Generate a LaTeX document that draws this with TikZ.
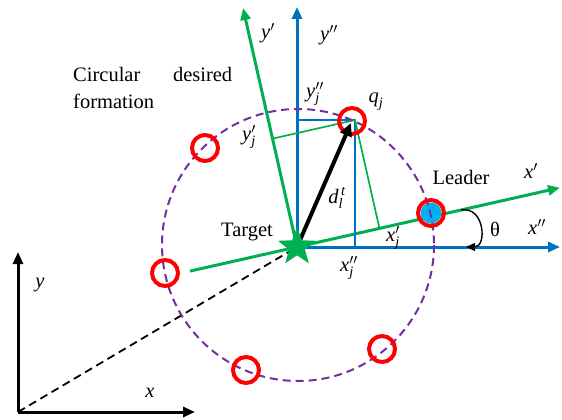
\documentclass[tikz,border=0pt]{standalone}
\usepackage{amsmath}
\usepackage{fontspec}
\setmainfont{Liberation Serif}
\usetikzlibrary{arrows.meta,shapes.geometric,calc}
\definecolor{gr}{HTML}{00B050}
\definecolor{bl}{HTML}{0070C0}
\definecolor{pu}{HTML}{7030A0}
\definecolor{cy}{HTML}{00B0F0}
\begin{document}
\begin{tikzpicture}[x=1pt,y=-1pt,
  font=\fontsize{20.5}{27}\selectfont,
  robot/.style={circle,draw=red,line width=4pt,minimum size=26pt,inner sep=0pt},
  tip/.style={-{Triangle[length=12pt,width=10pt]}},
  gaxis/.style={gr,line width=3pt,tip},
  baxis/.style={bl,line width=3pt,tip},
  kaxis/.style={black,line width=3pt,tip},
  gproj/.style={gr,line width=1.7pt},
  bproj/.style={bl,line width=2.3pt},
  formation/.style={pu,line width=2pt,dash pattern=on 8pt off 5pt},
  kdash/.style={black,line width=1.8pt,dash pattern=on 8pt off 5pt},
  lbl/.style={inner sep=0pt}]
\useasboundingbox (0,0) rectangle (562,420);

% key points
\coordinate (Tc) at (297,247);
\coordinate (O) at (18,412);
\coordinate (Oy) at (18,252);
\coordinate (Ox) at (195,412);
\coordinate (Bx) at (560,247);
\coordinate (By) at (297,7);
\coordinate (Gx0) at (190,271.1);
\coordinate (Gx) at (560,187.7);
\coordinate (Gy) at (243,8);
\coordinate (qp) at (355,120);
\coordinate (qa) at (351,123);
\coordinate (ths) at (461,210);
\coordinate (the) at (466,247);

% world frame
\draw[kaxis] (O) -- (Oy);
\draw[kaxis] (O) -- (Ox);
\draw[kdash] (O) -- (Tc);

% blue frame
\draw[baxis] (Tc) -- (By);
\draw[baxis] (Tc) -- (Bx);
% green frame
\draw[gaxis] (Tc) -- (Gy);
\draw[gaxis] (Gx0) -- (Gx);

% projections
\draw[bproj] ($(Tc)!(qp)!(By)$) -- (qp) -- ($(Tc)!(qp)!(Bx)$);
\draw[gproj] ($(Tc)!(qp)!(Gy)$) -- (qp) -- ($(Tc)!(qp)!(Gx)$);

% leader fill
\fill[cy] (431,213) circle (10.5);

% formation circle
\draw[formation] (298,245) circle (136);

% robots
\node[robot] (q) at (352,121) {};
\node[robot] (r2) at (205,148) {};
\node[robot] (r3) at (165,273) {};
\node[robot] (r4) at (246,370) {};
\node[robot] (r5) at (382,349) {};
\node[robot] (L) at (431,213) {};

% d vector
\draw[black,line width=4pt,-{Triangle[length=13pt,width=12pt]}] (Tc) -- (qa);

% target star
\node[star,star points=5,star point ratio=2.4,fill=gr,inner sep=0pt,minimum size=40pt] (T) at (Tc) {};

% theta arc
\draw[black,line width=1.4pt,-{Triangle[length=9pt,width=8pt]}] (ths) .. controls (485,206) and (487,247) .. (the);

% labels
\node[lbl,anchor=north west,align=left] (cap) at (73,67) {\hbox to 159pt{Circular\hfil desired}\\formation};
\node[lbl] (ly1) at (268,33) {$\textit{y}'$};
\node[lbl] (ly2) at (329,35) {$\textit{y}''$};
\node[lbl] (lyj2) at (315,94) {$\textit{y}''_{\textit{j}}$};
\node[lbl] (lq) at (376,102) {$\textit{q}_{\textit{j}}$};
\node[lbl] (lyj1) at (249,137) {$\textit{y}'_{\textit{j}}$};
\node[lbl] (ld) at (337,198) {$\textit{d}_{\textit{l}}^{\,\textit{t}}$};
\node[lbl] (lL) at (461,177) {Leader};
\node[lbl] (lx1) at (531,171) {$\textit{x}'$};
\node[lbl] (lth) at (495,229) {θ};
\node[lbl] (lx2) at (537,227) {$\textit{x}''$};
\node[lbl] (lT) at (247,232) {Target};
\node[lbl] (lxj1) at (393,238) {$\textit{x}'_{\textit{j}}$};
\node[lbl] (lxj2) at (349,268) {$\textit{x}''_{\textit{j}}$};
\node[lbl] (ly) at (40,285) {\textit{y}};
\node[lbl] (lx) at (150,393) {\textit{x}};
\end{tikzpicture}
\end{document}
